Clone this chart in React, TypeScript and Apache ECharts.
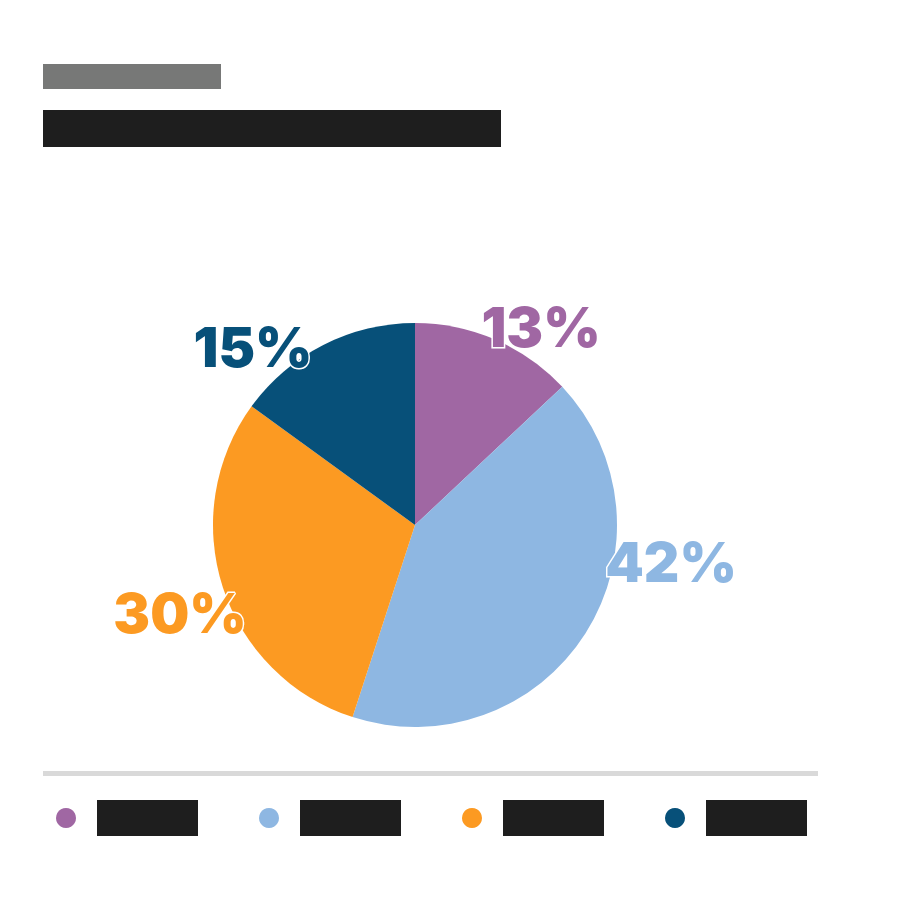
import React, { useEffect, useRef } from 'react';
import * as echarts from 'echarts';

const categories = ['Category A', 'Category B', 'Category C', 'Category D'];
const shares = [13, 42, 30, 15];
const colors = ['#a067a3', '#8eb7e2', '#fc9a22', '#075079'];

const kicker = 'Survey results';
const headline = 'Share of respondents by category';

// label centres nudged off the rim, as in the original layout
const labelSpots = [
  [541, 327],
  [671, 562],
  [180, 613],
  [253, 347],
];

const App: React.FC = () => {
  const chartRef = useRef<HTMLDivElement>(null);

  useEffect(() => {
    if (!chartRef.current) return;
    const chart = echarts.init(chartRef.current, undefined, { renderer: 'svg' });

    const option: echarts.EChartsOption = {
      animation: false,
      backgroundColor: '#ffffff',
      title: [
        {
          text: `{b|${kicker}}`,
          left: 43,
          top: 64,
          padding: 0,
          textStyle: {
            rich: {
              b: { width: 178, height: 25, backgroundColor: '#777877', color: '#777877', fontSize: 12, overflow: 'truncate' },
            },
          },
        },
        {
          text: `{b|${headline}}`,
          left: 43,
          top: 110,
          padding: 0,
          textStyle: {
            rich: {
              b: { width: 458, height: 37, backgroundColor: '#1e1e1e', color: '#1e1e1e', fontSize: 16, overflow: 'truncate' },
            },
          },
        },
      ],
      legend: {
        data: categories,
        left: 56,
        top: 800,
        padding: 0,
        icon: 'circle',
        itemWidth: 20,
        itemHeight: 20,
        itemGap: 61,
        selectedMode: false,
        formatter: (name: string) => `{sp| }{box|${name}}`,
        textStyle: {
          rich: {
            sp: { width: 16 },
            box: { width: 101, height: 36, backgroundColor: '#1e1e1e', color: '#1e1e1e', fontSize: 12, overflow: 'truncate' },
          },
        },
      },
      graphic: [
        { type: 'rect', shape: { x: 43, y: 771, width: 775, height: 5 }, style: { fill: '#d9d9d9' } },
      ],
      series: [
        {
          type: 'pie',
          center: [415, 525],
          radius: 202,
          startAngle: 90,
          clockwise: true,
          silent: true,
          itemStyle: { borderWidth: 0 },
          label: {
            show: true,
            position: 'outside',
            formatter: (p: any) => `${p.value}%`,
            fontFamily: 'Inter, "DejaVu Sans", sans-serif',
            fontWeight: 900,
            fontSize: 55,
            color: 'inherit',
            textBorderColor: '#ffffff',
            textBorderWidth: 3,
          },
          labelLine: { show: false },
          labelLayout: (p: any) => ({
            x: labelSpots[p.dataIndex][0],
            y: labelSpots[p.dataIndex][1],
            align: 'center',
            verticalAlign: 'middle',
          }),
          data: categories.map((name, i) => ({
            name,
            value: shares[i],
            itemStyle: { color: colors[i] },
            label: { color: colors[i] },
          })),
        },
      ],
    };

    chart.setOption(option);

    return () => {
      chart.dispose();
    };
  }, []);

  return <div ref={chartRef} style={{ position: 'absolute', left: 0, top: 0, width: '900px', height: '900px' }} />;
};

export default App;
